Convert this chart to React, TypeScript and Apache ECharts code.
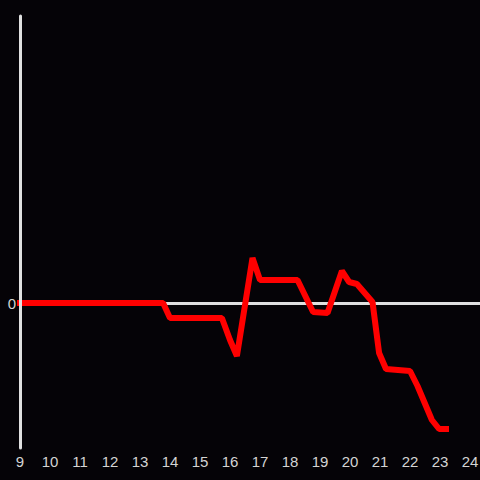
import React, { useEffect, useRef } from "react";
import * as echarts from "echarts";

const hours = [9, 13.77, 14.0, 15.73, 16.0, 16.23, 16.75, 17.0, 18.25, 18.77, 19.25, 19.73, 19.97, 20.23, 20.75, 20.97, 21.2, 22.0, 22.25, 22.73, 22.97, 23.2];
const values = [0, 0, -15, -15, -37, -53, 45, 23, 23, -9, -10, 32, 21, 19, 1, -50, -66, -68, -83, -117, -126, -126];
const xTicks = [9, 24];

export default function App() {
  const ref = useRef<HTMLDivElement>(null);
  useEffect(() => {
    const chart = echarts.init(ref.current!, null, { renderer: "svg" });
    chart.setOption({
      animation: false,
      backgroundColor: "#050307",
      grid: { left: 20, right: 0, top: 16, bottom: 32, outerBoundsMode: "none", containLabel: false },
      xAxis: {
        type: "value",
        min: xTicks[0],
        max: 24.333,
        interval: 1,
        axisLine: { show: false },
        axisTick: { show: false },
        splitLine: { show: false },
        axisLabel: {
          color: "#d4d4d4",
          fontSize: 15,
          fontFamily: "Liberation Sans",
          margin: 6,
          formatter: (v: number) => (Number.isInteger(v) && v <= xTicks[1] ? String(v) : ""),
        },
      },
      yAxis: {
        type: "value",
        min: -145,
        max: 287,
        interval: 145,
        z: 10,
        axisLine: { show: true, onZero: false, lineStyle: { color: "#e0e0e0", width: 3 } },
        axisTick: { show: false },
        splitLine: { show: false },
        axisLabel: {
          color: "#d4d4d4",
          fontSize: 15,
          fontFamily: "Liberation Sans",
          margin: 4,
          formatter: (v: number) => (v === 0 ? "0" : ""),
        },
      },
      series: [
        {
          type: "line",
          data: hours.map((h, i) => [h, values[i]]),
          showSymbol: false,
          lineStyle: { color: "#ff0000", width: 6, cap: "square" },
          itemStyle: { color: "#ff0000" },
          z: 3,
          markLine: {
            silent: true,
            symbol: "none",
            label: { show: false },
            lineStyle: { color: "#e0e0e0", width: 3, type: "solid" },
            data: [{ yAxis: 0 }],
            z: 1,
          },
        },
      ],
    });
    return () => chart.dispose();
  }, []);
  return <div ref={ref} style={{ width: 480, height: 480, position: "absolute", left: 0, top: 0 }} />;
}
